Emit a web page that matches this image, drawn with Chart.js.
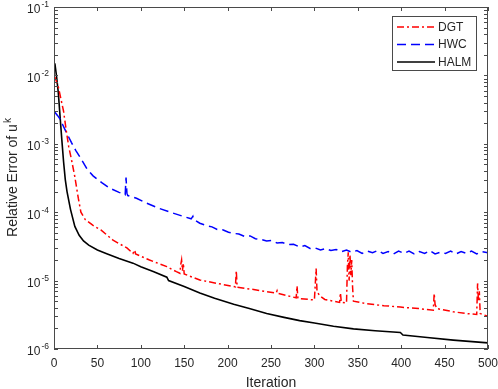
<!DOCTYPE html>
<html>
<head>
<meta charset="utf-8">
<script src="https://cdn.jsdelivr.net/npm/chart.js@4.4.1/dist/chart.umd.min.js"></script>
<style>
  html, body { margin: 0; padding: 0; background: #fff; }
</style>
</head>
<body>
<canvas id="errChart" width="498" height="389"></canvas>
<script>
// ----- DATA -----
const xTicks = [0, 50, 100, 150, 200, 250, 300, 350, 400, 450, 500];
const yTickExps = [-6, -5, -4, -3, -2, -1];
const seriesNames = ['DGT', 'HWC', 'HALM'];

const dgtIter = [1, 3, 5, 8, 11, 14, 17, 20, 24, 28, 31, 36, 45, 54, 68, 84, 91, 93, 94, 110, 130, 141, 145, 146, 147, 148, 149, 150,
  168, 190, 209, 210, 211, 230, 245, 256, 257, 258, 279, 280, 281, 300, 302, 303, 306, 312, 329, 330, 331, 337, 338, 339, 340,
  341, 342, 343, 344, 345, 360, 380, 399, 420, 437, 438, 439, 441, 460, 475, 487, 488, 489, 490, 491, 500];
const dgtErr = [9.5e-3, 8e-3, 6.8e-3, 4.5e-3, 3.0e-3, 1.6e-3, 9e-4, 6e-4, 3.3e-4, 1.6e-4, 1.0e-4, 7.8e-5, 6.4e-5, 5.5e-5, 3.9e-5,
  3.0e-5, 2.5e-5, 2.8e-5, 2.45e-5, 2.0e-5, 1.6e-5, 1.35e-5, 1.28e-5, 1.7e-5, 2.0e-5, 1.4e-5, 1.8e-5, 1.25e-5,
  1.02e-5, 9e-6, 8.1e-6, 1.4e-5, 8e-6, 7.4e-6, 6.9e-6, 6.6e-6, 7.1e-6, 6.5e-6, 5.6e-6, 8.3e-6, 5.5e-6, 5.2e-6, 1.5e-5, 7e-6,
  6e-6, 5.3e-6, 4.8e-6, 6.6e-6, 4.8e-6, 4.7e-6, 1.6e-5, 2.6e-5, 1.0e-5, 2.4e-5, 1.2e-5, 2.0e-5, 8e-6, 5e-6, 4.6e-6, 4.3e-6,
  4.1e-6, 3.9e-6, 3.7e-6, 6.5e-6, 4.5e-6, 3.9e-6, 3.5e-6, 3.3e-6, 3.2e-6, 9.1e-6, 5e-6, 7e-6, 3.3e-6, 3.0e-6];

const hwcIter = [1, 4, 7, 10, 15, 20, 25, 30, 38, 45, 55, 64, 75, 82, 83, 84, 85, 95, 107, 120, 137, 150, 158, 160, 161,
  168, 175, 182, 188, 195, 201, 207, 213, 220, 226, 232, 238, 245, 251, 257, 263, 270, 276, 283, 289, 295, 301, 307, 313,
  319, 325, 331, 337, 343, 349, 355, 361, 367, 373, 379, 385, 391, 397, 403, 409, 415, 421, 427, 433, 439, 445, 451, 457,
  463, 469, 475, 481, 487, 493, 500];
const hwcErr = [2.9e-3, 2.6e-3, 2.3e-3, 1.9e-3, 1.4e-3, 1.05e-3, 8e-4, 6.4e-4, 4.3e-4, 3.4e-4, 2.7e-4, 2.25e-4, 1.95e-4,
  1.8e-4, 3.2e-4, 1.9e-4, 1.75e-4, 1.6e-4, 1.35e-4, 1.15e-4, 9.7e-5, 8.6e-5, 8e-5, 8.7e-5, 7.8e-5,
  6.9e-5, 6.4e-5, 6.1e-5, 5.6e-5, 5.5e-5, 5.1e-5, 4.9e-5, 4.8e-5, 4.4e-5, 4.5e-5, 4.1e-5, 4.0e-5, 3.8e-5, 3.85e-5,
  3.55e-5, 3.6e-5, 3.35e-5, 3.4e-5, 3.1e-5, 3.25e-5, 2.95e-5, 3.0e-5, 2.8e-5, 2.95e-5, 2.75e-5, 2.85e-5, 2.65e-5,
  2.8e-5, 2.6e-5, 2.75e-5, 2.5e-5, 2.7e-5, 2.55e-5, 2.75e-5, 2.5e-5, 2.65e-5, 2.45e-5, 2.7e-5, 2.5e-5, 2.7e-5, 2.45e-5,
  2.65e-5, 2.5e-5, 2.75e-5, 2.45e-5, 2.6e-5, 2.5e-5, 2.7e-5, 2.45e-5, 2.65e-5, 2.5e-5, 2.7e-5, 2.45e-5, 2.65e-5, 2.55e-5];

const halmIter = [1, 3, 5, 7, 9, 11, 13, 15, 19, 24, 29, 34, 40, 50, 60, 75, 91, 100, 115, 130, 132, 150, 168, 185, 207,
  225, 245, 265, 283, 300, 322, 345, 370, 399, 402, 430, 460, 500];
const halmErr = [1.5e-2, 9.5e-3, 5.5e-3, 2.5e-3, 1.15e-3, 5.5e-4, 3.0e-4, 2.0e-4, 1.1e-4, 6.2e-5, 4.6e-5, 3.8e-5, 3.3e-5,
  2.8e-5, 2.5e-5, 2.1e-5, 1.8e-5, 1.6e-5, 1.35e-5, 1.12e-5, 1.0e-5, 8.2e-6, 6.6e-6, 5.5e-6, 4.5e-6, 3.9e-6, 3.3e-6,
  2.9e-6, 2.6e-6, 2.4e-6, 2.15e-6, 1.97e-6, 1.85e-6, 1.74e-6, 1.6e-6, 1.47e-6, 1.35e-6, 1.23e-6];

const pts = (xs, ys) => xs.map((v, i) => ({ x: v, y: ys[i] }));

const axisColor = '#4a4a4a';
const textColor = '#262626';
const fontFam = '"Liberation Sans", Arial, Helvetica, sans-serif';
const styles = [
  { color: '#ff0000', dash: [7, 3, 2, 3], width: 1.5 },
  { color: '#0000ff', dash: [9, 5], width: 1.5 },
  { color: '#000000', dash: [], width: 1.6 }
];

// ----- AXES / LABELS / LEGEND (matlab look) -----
const matlabAxes = {
  id: 'matlabAxes',
  afterDatasetsDraw(chart) {
    const { ctx, chartArea: a, scales: { x, y } } = chart;
    const tickLen = 4;
    ctx.save();
    ctx.strokeStyle = axisColor;
    ctx.lineWidth = 1;
    ctx.setLineDash([]);
    ctx.strokeRect(a.left + 0.5, a.top + 0.5, a.right - a.left - 1, a.bottom - a.top - 1);

    ctx.beginPath();
    xTicks.forEach(v => {
      const px = Math.round(x.getPixelForValue(v)) + 0.5;
      ctx.moveTo(px, a.bottom); ctx.lineTo(px, a.bottom - tickLen);
      ctx.moveTo(px, a.top); ctx.lineTo(px, a.top + tickLen);
    });
    yTickExps.forEach(e => {
      for (let m = 1; m <= 9; m++) {
        if (e === -1 && m > 1) break;
        const py = Math.round(y.getPixelForValue(m * Math.pow(10, e))) + 0.5;
        ctx.moveTo(a.left, py); ctx.lineTo(a.left + tickLen, py);
        ctx.moveTo(a.right, py); ctx.lineTo(a.right - tickLen, py);
      }
    });
    ctx.stroke();

    // x tick labels
    ctx.fillStyle = textColor;
    ctx.font = '12px ' + fontFam;
    ctx.textAlign = 'center';
    ctx.textBaseline = 'middle';
    xTicks.forEach(v => ctx.fillText(String(v), x.getPixelForValue(v), a.bottom + 15));

    // y tick labels 10^e
    yTickExps.forEach(e => {
      const py = y.getPixelForValue(Math.pow(10, e));
      const expTxt = String(e);
      ctx.font = '8.5px ' + fontFam;
      const wExp = ctx.measureText(expTxt).width;
      ctx.font = '12px ' + fontFam;
      const wBase = ctx.measureText('10').width;
      const right = a.left - 5;
      ctx.textAlign = 'left';
      ctx.fillText('10', right - wExp - wBase - 1, py + 3);
      ctx.font = '8.5px ' + fontFam;
      ctx.fillText(expTxt, right - wExp, py - 2);
    });

    // axis titles
    ctx.font = '14px ' + fontFam;
    ctx.textAlign = 'center';
    ctx.fillText('Iteration', (a.left + a.right) / 2, a.bottom + 34);

    ctx.save();
    ctx.translate(13, (a.top + a.bottom) / 2);
    ctx.rotate(-Math.PI / 2);
    const mainTxt = 'Relative Error of u';
    ctx.font = '14px ' + fontFam;
    const wMain = ctx.measureText(mainTxt).width;
    ctx.font = '10px ' + fontFam;
    const wK = ctx.measureText('k').width;
    const start = -(wMain + wK) / 2;
    ctx.textAlign = 'left';
    ctx.font = '14px ' + fontFam;
    ctx.fillText(mainTxt, start, 0);
    ctx.font = '10px ' + fontFam;
    ctx.fillText('k', start + wMain + 1, -5);
    ctx.restore();

    // legend
    const lx = 392, ly = 16, lw = 85, lh = 55;
    ctx.fillStyle = '#ffffff';
    ctx.fillRect(lx, ly, lw, lh);
    ctx.strokeStyle = axisColor;
    ctx.strokeRect(lx + 0.5, ly + 0.5, lw - 1, lh - 1);
    const rows = [27, 44.5, 62];
    seriesNames.forEach((name, i) => {
      const s = styles[i];
      ctx.strokeStyle = s.color;
      ctx.lineWidth = s.width;
      ctx.setLineDash(s.dash);
      ctx.beginPath();
      ctx.moveTo(397, rows[i]); ctx.lineTo(435, rows[i]);
      ctx.stroke();
      ctx.setLineDash([]);
      ctx.fillStyle = textColor;
      ctx.font = '12px ' + fontFam;
      ctx.textAlign = 'left';
      ctx.fillText(name, 438, rows[i] + 0.5);
    });
    ctx.restore();
  }
};

const allSeries = [pts(dgtIter, dgtErr), pts(hwcIter, hwcErr), pts(halmIter, halmErr)];

new Chart(document.getElementById('errChart').getContext('2d'), {
  type: 'line',
  data: {
    datasets: seriesNames.map((name, i) => ({
      label: name,
      data: allSeries[i],
      borderColor: styles[i].color,
      borderWidth: styles[i].width,
      borderDash: styles[i].dash,
      pointRadius: 0,
      tension: 0,
      fill: false
    }))
  },
  options: {
    responsive: false,
    animation: false,
    layout: { padding: { left: 54, right: 10, top: 7, bottom: 40 } },
    plugins: { legend: { display: false }, tooltip: { enabled: false } },
    scales: {
      x: { type: 'linear', min: 0, max: 500, display: false },
      y: { type: 'logarithmic', min: 1e-6, max: 1e-1, display: false }
    }
  },
  plugins: [matlabAxes]
});
</script>
</body>
</html>
